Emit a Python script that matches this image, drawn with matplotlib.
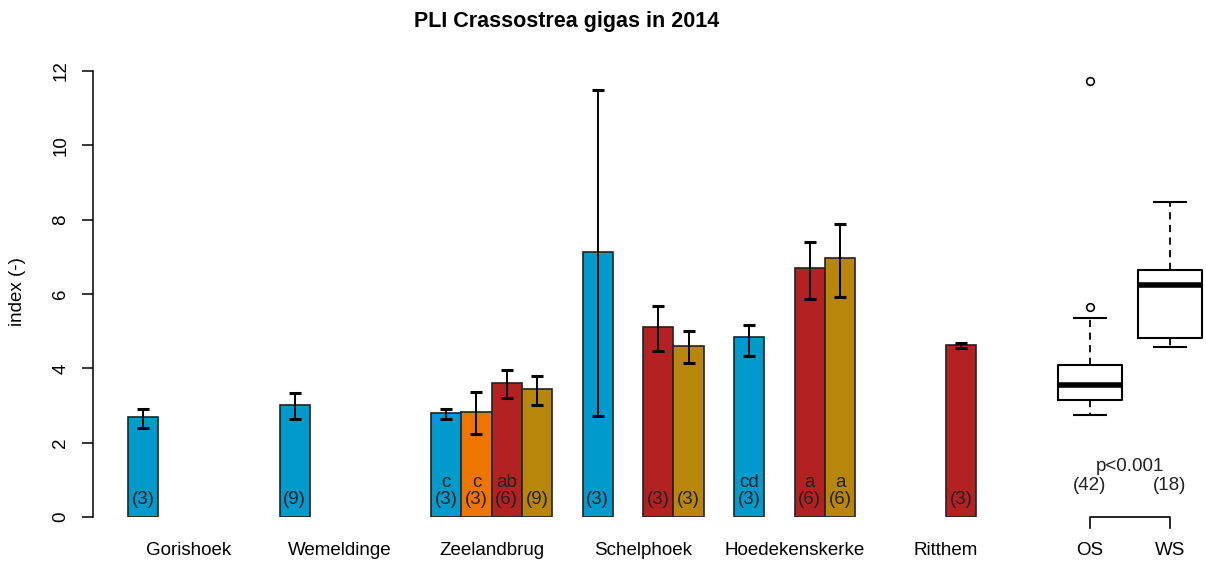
import numpy as np
import matplotlib
matplotlib.use("Agg")
import matplotlib.pyplot as plt

plt.rcParams['font.family'] = ['Liberation Sans', 'DejaVu Sans']

sites = ["Gorishoek", "Wemeldinge", "Zeelandbrug", "Schelphoek", "Hoedekenskerke", "Ritthem"]
colors = ["#009ACD", "#EE7600", "#B22222", "#B8860B"]
nan = np.nan

# mean index per site, one list per bar colour
mean_blue = [2.70, 3.02, 2.80, 7.13, 4.83, nan]
mean_orange = [nan, nan, 2.82, nan, nan, nan]
mean_red = [nan, nan, 3.60, 5.10, 6.69, 4.63]
mean_gold = [nan, nan, 3.44, 4.61, 6.96, nan]

# error bar ends (lower, upper)
lo_blue = [2.39, 2.63, 2.64, 2.72, 4.34, nan]
hi_blue = [2.91, 3.33, 2.90, 11.49, 5.17, nan]
lo_orange = [nan, nan, 2.23, nan, nan, nan]
hi_orange = [nan, nan, 3.36, nan, nan, nan]
lo_red = [nan, nan, 3.20, 4.47, 5.86, 4.55]
hi_red = [nan, nan, 3.95, 5.69, 7.41, 4.68]
lo_gold = [nan, nan, 3.01, 4.14, 5.93, nan]
hi_gold = [nan, nan, 3.79, 5.01, 7.89, nan]

n_blue = [3, 9, 3, 3, 3, None]
n_orange = [None, None, 3, None, None, None]
n_red = [None, None, 6, 3, 6, 3]
n_gold = [None, None, 9, 3, 6, None]

let_blue = ["", "", "c", "", "cd", ""]
let_orange = ["", "", "c", "", "", ""]
let_red = ["", "", "ab", "", "a", ""]
let_gold = ["", "", "", "", "a", ""]

# boxplot summary, OS vs WS
box_labels = ["OS", "WS"]
box_n = [42, 18]
box_whislo = [2.74, 4.57]
box_q1 = [3.15, 4.82]
box_med = [3.55, 6.24]
box_q3 = [4.09, 6.65]
box_whishi = [5.35, 8.47]
box_fliers = [[5.65, 11.73], []]
p_text = "p<0.001"

means = [mean_blue, mean_orange, mean_red, mean_gold]
los = [lo_blue, lo_orange, lo_red, lo_gold]
his = [hi_blue, hi_orange, hi_red, hi_gold]
ns = [n_blue, n_orange, n_red, n_gold]
lets = [let_blue, let_orange, let_red, let_gold]

fs = 13.5
fig = plt.figure(figsize=(12.06, 5.61), dpi=100)
ax = fig.add_axes([93 / 1206, 44 / 561, 1113 / 1206, 446 / 561])
ax.set_xlim((93 - 97.7) / 30.3, (1206 - 97.7) / 30.3)
ax.set_ylim(0, 12)

for k in range(4):
    for g in range(len(sites)):
        m = means[k][g]
        if np.isnan(m):
            continue
        x = 1 + g * 5 + k + 0.5
        ax.bar(x, m, width=1, color=colors[k], edgecolor="#222222", linewidth=1.2, zorder=2)
        err = [[m - los[k][g]], [his[k][g] - m]]
        ax.errorbar(x, m, yerr=err, fmt="none", ecolor="black", elinewidth=1.4,
                    capsize=4.5, capthick=2.2, zorder=3)
        ax.text(x, 0.46, "(%d)" % ns[k][g], ha="center", va="center", fontsize=fs, color="#222222", zorder=4)
        if lets[k][g]:
            ax.text(x, 0.93, lets[k][g], ha="center", va="center", fontsize=fs, color="#222222", zorder=4)

for g, s in enumerate(sites):
    ax.text(1 + g * 5 + 2, -0.89, s, ha="center", va="center", fontsize=fs, clip_on=False)

# boxplot
bpos = [(1090 - 97.7) / 30.3, (1170 - 97.7) / 30.3]
stats = []
for i in range(2):
    stats.append(dict(med=box_med[i], q1=box_q1[i], q3=box_q3[i], whislo=box_whislo[i],
                      whishi=box_whishi[i], fliers=box_fliers[i], label=box_labels[i]))
ax.bxp(stats, positions=bpos, widths=2.11, manage_ticks=False,
       boxprops=dict(color="black", linewidth=1.5),
       medianprops=dict(color="black", linewidth=4),
       whiskerprops=dict(color="black", linewidth=1.3, linestyle=(0, (4, 3))),
       capprops=dict(color="black", linewidth=1.5),
       flierprops=dict(marker="o", markerfacecolor="none", markeredgecolor="black",
                       markersize=5.5, markeredgewidth=1.2))

for i in range(2):
    ax.text(bpos[i], 0.86, "(%d)" % box_n[i], ha="center", va="center", fontsize=fs, color="#222222")
    ax.text(bpos[i], -0.89, box_labels[i], ha="center", va="center", fontsize=fs, clip_on=False)
ax.text(sum(bpos) / 2, 1.35, p_text, ha="center", va="center", fontsize=fs, color="#222222")
ax.plot([bpos[0], bpos[0], bpos[1], bpos[1]], [-0.3, 0, 0, -0.3], color="black", lw=1.2, clip_on=False)

for sp in ["top", "right", "bottom"]:
    ax.spines[sp].set_visible(False)
ax.spines["left"].set_bounds(0, 12)
ax.spines["left"].set_linewidth(1.1)
ax.set_xticks([])
ax.set_yticks([0, 2, 4, 6, 8, 10, 12])
ax.tick_params(axis="y", length=8, width=1.1, pad=9, labelsize=fs)
for lab in ax.get_yticklabels():
    lab.set_rotation(90)
    lab.set_va("center")

fig.text(18 / 1206, 1 - 292 / 561, "index (-)", rotation=90, ha="center", va="center", fontsize=fs)
fig.text(567 / 1206, 1 - 22 / 561, "PLI Crassostrea gigas in 2014", ha="center", va="center",
         fontsize=15.5, fontweight="bold")

fig.savefig("out.png", dpi=100)
